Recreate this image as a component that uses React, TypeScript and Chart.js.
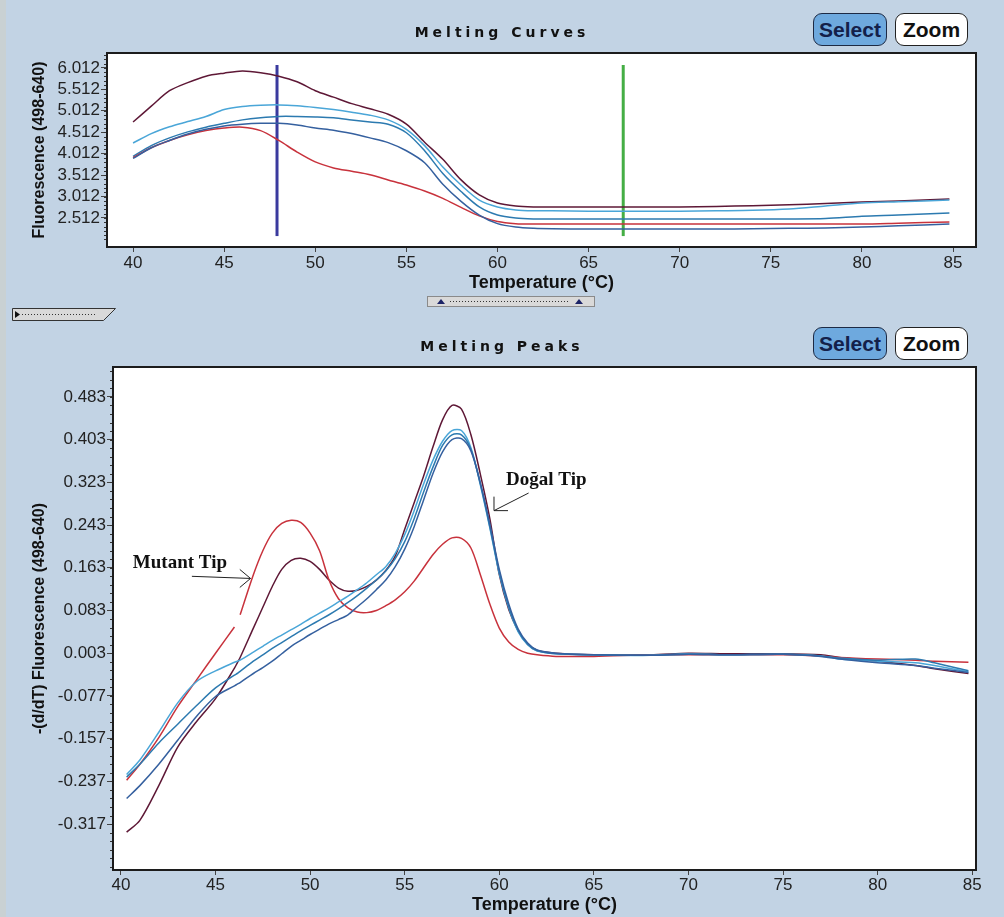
import React, { useEffect, useRef } from "react";
import { Chart, registerables } from "chart.js";

Chart.register(...registerables);

const BG = "rgb(194,211,228)";

// ---------- Melting Curves (top) ----------
const curveTemps = [40, 41, 42, 43, 44, 45, 46, 47, 48, 49, 50, 51, 52, 53, 54, 55, 56, 57, 58, 59, 60, 61, 62, 63, 65, 68, 70, 72, 74, 76, 78, 80, 82, 84.8];
const curveMaroon = [4.75, 5.12, 5.48, 5.67, 5.82, 5.89, 5.94, 5.9, 5.82, 5.69, 5.48, 5.33, 5.18, 5.06, 4.93, 4.7, 4.28, 3.88, 3.4, 3.05, 2.86, 2.79, 2.77, 2.77, 2.77, 2.77, 2.77, 2.78, 2.8, 2.82, 2.85, 2.885, 2.91, 2.955];
const curveBlue1 = [4.26, 4.48, 4.64, 4.76, 4.88, 5.04, 5.11, 5.14, 5.15, 5.13, 5.09, 5.04, 4.98, 4.91, 4.8, 4.58, 4.2, 3.7, 3.28, 2.93, 2.77, 2.7, 2.68, 2.68, 2.67, 2.67, 2.67, 2.68, 2.69, 2.72, 2.79, 2.86, 2.89, 2.93];
const curveBlue2 = [3.95, 4.2, 4.38, 4.52, 4.63, 4.72, 4.8, 4.85, 4.88, 4.88, 4.87, 4.85, 4.8, 4.75, 4.7, 4.5, 4.08, 3.55, 3.13, 2.77, 2.58, 2.51, 2.49, 2.49, 2.49, 2.49, 2.49, 2.49, 2.49, 2.49, 2.5, 2.55, 2.58, 2.63];
const curveBlue3 = [3.9, 4.15, 4.32, 4.47, 4.58, 4.66, 4.7, 4.72, 4.72, 4.68, 4.61, 4.56, 4.48, 4.38, 4.27, 4.08, 3.8, 3.3, 2.9, 2.58, 2.38, 2.3, 2.27, 2.26, 2.255, 2.255, 2.255, 2.255, 2.26, 2.27, 2.28, 2.3, 2.33, 2.37];
const curveRed = [3.92, 4.15, 4.32, 4.45, 4.55, 4.61, 4.63, 4.55, 4.32, 4.05, 3.82, 3.68, 3.6, 3.52, 3.4, 3.28, 3.14, 2.97, 2.76, 2.56, 2.43, 2.38, 2.37, 2.37, 2.37, 2.37, 2.37, 2.37, 2.37, 2.37, 2.37, 2.37, 2.39, 2.42];
const curveYTicks = [2.512, 3.012, 3.512, 4.012, 4.512, 5.012, 5.512, 6.012];
const cursorTemps = [47.9, 66.9];
const cursorRange = [2.09, 6.08];

// ---------- Melting Peaks (bottom) ----------
const peakTemps = [40.3, 41, 42, 43, 44, 45, 46, 46.15, 46.3, 47, 47.5, 48, 48.5, 49, 49.5, 50, 50.5, 51, 51.5, 52, 52.5, 53, 53.5, 54, 54.5, 55, 55.5, 56, 56.5, 57, 57.5, 58, 58.5, 59, 59.5, 60, 60.5, 61, 61.5, 62, 63, 65, 68, 70, 72, 75, 77, 78, 80, 82, 83, 84.8];
const peakRed = [-0.235, -0.205, -0.155, -0.097, -0.047, 0.003, 0.052, null, 0.075, 0.15, 0.195, 0.228, 0.246, 0.252, 0.248, 0.228, 0.195, 0.14, 0.105, 0.088, 0.08, 0.079, 0.083, 0.092, 0.103, 0.118, 0.138, 0.163, 0.188, 0.207, 0.219, 0.218, 0.2, 0.15, 0.095, 0.05, 0.024, 0.01, 0.003, 0.0, -0.003, -0.003, 0.0, 0.0, 0.0, 0.0, -0.002, -0.005, -0.008, -0.01, -0.012, -0.014];
const peakDark = [-0.332, -0.31, -0.245, -0.173, -0.125, -0.082, -0.025, -0.015, -0.005, 0.05, 0.089, 0.128, 0.16, 0.177, 0.181, 0.175, 0.16, 0.14, 0.125, 0.119, 0.121, 0.128, 0.14, 0.158, 0.185, 0.235, 0.285, 0.335, 0.39, 0.44, 0.467, 0.46, 0.412, 0.338, 0.255, 0.15, 0.085, 0.045, 0.02, 0.008, 0.003, 0.0, 0.0, 0.003, 0.002, 0.002, 0.0, -0.005, -0.012, -0.02, -0.026, -0.035];
const peakBlueA = [-0.224, -0.197, -0.145, -0.09, -0.05, -0.03, -0.014, -0.012, -0.01, 0.005, 0.016, 0.027, 0.037, 0.047, 0.057, 0.068, 0.078, 0.088, 0.099, 0.11, 0.122, 0.135, 0.15, 0.165, 0.19, 0.225, 0.27, 0.32, 0.365, 0.4, 0.42, 0.42, 0.388, 0.318, 0.238, 0.152, 0.088, 0.043, 0.019, 0.007, 0.002, 0.0, -0.001, 0.002, 0.0, 0.001, -0.002, -0.008, -0.012, -0.015, -0.02, -0.032];
const peakBlueB = [-0.229, -0.205, -0.165, -0.13, -0.095, -0.062, -0.038, -0.035, -0.031, -0.012, 0.0, 0.012, 0.023, 0.034, 0.045, 0.055, 0.065, 0.075, 0.086, 0.098, 0.111, 0.125, 0.14, 0.157, 0.18, 0.212, 0.255, 0.305, 0.352, 0.392, 0.412, 0.412, 0.385, 0.32, 0.24, 0.155, 0.09, 0.045, 0.02, 0.008, 0.002, 0.0, -0.001, 0.001, 0.0, 0.001, -0.002, -0.006, -0.01, -0.008, -0.015, -0.03];
const peakBlueC = [-0.269, -0.245, -0.205, -0.16, -0.115, -0.078, -0.058, -0.055, -0.052, -0.035, -0.024, -0.012, 0.002, 0.016, 0.027, 0.038, 0.048, 0.058, 0.066, 0.075, 0.09, 0.105, 0.122, 0.14, 0.165, 0.198, 0.24, 0.29, 0.34, 0.38, 0.403, 0.405, 0.382, 0.322, 0.245, 0.16, 0.095, 0.048, 0.022, 0.009, 0.003, 0.0, -0.001, 0.001, 0.0, 0.001, -0.003, -0.008, -0.015, -0.02, -0.025, -0.033];
const peakYTicks = [-0.317, -0.237, -0.157, -0.077, 0.003, 0.083, 0.163, 0.243, 0.323, 0.403, 0.483];
const tempTicks = [40, 45, 50, 55, 60, 65, 70, 75, 80, 85];

const annotations = [
  { text: "Mutant Tip", x: 40.63, y: 0.172, from: [43.75, 0.147], to: [46.85, 0.143], heads: [140, 220] },
  { text: "Doğal Tip", x: 60.36, y: 0.327, from: [61.55, 0.303], to: [59.72, 0.27], heads: [0, -90] },
];

const COL = {
  maroon: "#5E1836",
  red: "#C8323C",
  blueA: "#4AA6D8",
  blueB: "#2C7AB0",
  blueC: "#35609F",
};

const frame = (minorStep: number) => ({
  id: "frame",
  beforeDraw(chart: any) {
    const { ctx, chartArea: a } = chart;
    ctx.save();
    ctx.fillStyle = "#ffffff";
    ctx.fillRect(a.left, a.top, a.right - a.left, a.bottom - a.top);
    ctx.restore();
  },
  afterDraw(chart: any) {
    const { ctx, chartArea: a } = chart;
    const y = chart.scales.y;
    ctx.save();
    ctx.strokeStyle = "#333";
    ctx.lineWidth = 1;
    const ticks = y.ticks.map((t: any) => t.value);
    const lo = ticks[0] - minorStep * 5;
    const hi = ticks[ticks.length - 1] + minorStep * 5;
    for (let v = lo; v <= hi + 1e-9; v += minorStep) {
      const p = Math.round(y.getPixelForValue(v)) + 0.5;
      if (p < a.top + 1 || p > a.bottom - 1) continue;
      ctx.beginPath();
      ctx.moveTo(a.left - 3, p);
      ctx.lineTo(a.left, p);
      ctx.stroke();
    }
    ctx.strokeStyle = "#1c1c1c";
    ctx.lineWidth = 2;
    ctx.strokeRect(a.left, a.top, a.right - a.left, a.bottom - a.top);
    ctx.restore();
  },
});

const annotate = {
  id: "annotate",
  afterDatasetsDraw(chart: any) {
    const { ctx } = chart;
    const xs = chart.scales.x;
    const ys = chart.scales.y;
    ctx.save();
    ctx.fillStyle = "#111";
    ctx.strokeStyle = "#222";
    ctx.lineWidth = 1;
    ctx.font = 'bold 19px "Liberation Serif"';
    ctx.textBaseline = "middle";
    ctx.textAlign = "left";
    for (const an of annotations) {
      ctx.fillText(an.text, xs.getPixelForValue(an.x), ys.getPixelForValue(an.y));
      const x1 = xs.getPixelForValue(an.from[0]);
      const y1 = ys.getPixelForValue(an.from[1]);
      const x2 = xs.getPixelForValue(an.to[0]);
      const y2 = ys.getPixelForValue(an.to[1]);
      ctx.beginPath();
      ctx.moveTo(x1, y1);
      ctx.lineTo(x2, y2);
      for (const hd of an.heads) {
        const r = (hd * Math.PI) / 180;
        ctx.moveTo(x2, y2);
        ctx.lineTo(x2 + 14 * Math.cos(r), y2 + 14 * Math.sin(r));
      }
      ctx.stroke();
    }
    ctx.restore();
  },
};

const tickFont = { family: "Liberation Sans", size: 17 };
const titleFont = { family: "Liberation Sans", size: 16, weight: "bold" as const };

function xScale(min: number, max: number, height: number, tickPad: number, titlePadBottom: number) {
  return {
    type: "linear" as const,
    min,
    max,
    afterBuildTicks: (s: any) => {
      s.ticks = tempTicks.map((v) => ({ value: v }));
    },
    afterFit: (s: any) => {
      s.height = height;
    },
    ticks: { font: tickFont, color: "#222", padding: tickPad, maxRotation: 0, autoSkip: false, callback: (v: any) => String(v) },
    grid: { drawOnChartArea: false, drawTicks: true, tickLength: 5, color: "#444" },
    border: { display: false },
    title: {
      display: true,
      text: "Temperature (°C)",
      font: { family: "Liberation Sans", size: 18, weight: "bold" as const },
      color: "#111",
      padding: { top: 0, bottom: titlePadBottom },
    },
  };
}

function yScale(min: number, max: number, width: number, ticks: number[], label: string) {
  return {
    type: "linear" as const,
    min,
    max,
    afterBuildTicks: (s: any) => {
      s.ticks = ticks.map((v) => ({ value: v }));
    },
    afterFit: (s: any) => {
      s.width = width;
    },
    ticks: { font: tickFont, color: "#222", padding: 1, autoSkip: false, callback: (v: any) => Number(v).toFixed(3) },
    grid: { drawOnChartArea: false, drawTicks: true, tickLength: 6, color: "#444" },
    border: { display: false },
    title: { display: true, text: label, font: titleFont, color: "#111", padding: { top: 30, bottom: 0 } },
  };
}

const line = (label: string, temps: number[], vals: (number | null)[], color: string) => ({
  label,
  data: temps.map((t, i) => ({ x: t, y: vals[i] })),
  borderColor: color,
  borderWidth: 1.5,
  pointRadius: 0,
  tension: 0.3,
  fill: false,
  spanGaps: false,
});

function Button({ text, left, top, active }: { text: string; left: number; top: number; active: boolean }) {
  return (
    <div
      style={{
        position: "absolute",
        left,
        top,
        width: active ? 74 : 73,
        height: 33,
        boxSizing: "border-box",
        borderRadius: 9,
        border: active ? "1px solid #1d2a44" : "1px solid #222",
        background: active ? "#6EA9DE" : "#ffffff",
        color: active ? "#13204A" : "#111",
        font: 'bold 21px "Liberation Sans"',
        display: "flex",
        alignItems: "center",
        justifyContent: "center",
      }}
    >
      {text}
    </div>
  );
}

export default function App() {
  const topRef = useRef<HTMLCanvasElement>(null);
  const botRef = useRef<HTMLCanvasElement>(null);

  useEffect(() => {
    const top = new Chart(topRef.current!, {
      type: "line",
      data: {
        datasets: [
          line("c1", curveTemps, curveBlue3, COL.blueC),
          line("c2", curveTemps, curveRed, COL.red),
          line("c3", curveTemps, curveBlue2, COL.blueB),
          line("c4", curveTemps, curveBlue1, COL.blueA),
          line("c5", curveTemps, curveMaroon, COL.maroon),
          {
            label: "cursor1",
            data: cursorRange.map((v) => ({ x: cursorTemps[0], y: v })),
            borderColor: "#3A3A9E",
            borderWidth: 3,
            pointRadius: 0,
          },
          {
            label: "cursor2",
            data: cursorRange.map((v) => ({ x: cursorTemps[1], y: v })),
            borderColor: "#45AE45",
            borderWidth: 3,
            pointRadius: 0,
          },
        ] as any,
      },
      options: {
        responsive: false,
        animation: false,
        layout: { padding: { left: 0, right: 28, top: 53, bottom: 0 } },
        plugins: { legend: { display: false }, tooltip: { enabled: false }, title: { display: false } },
        scales: {
          x: xScale(38.57, 86.26, 53, 1, 6) as any,
          y: yScale(1.835, 6.36, 107, curveYTicks, "Fluorescence (498-640)") as any,
        },
      },
      plugins: [frame(0.1)],
    });

    const bot = new Chart(botRef.current!, {
      type: "line",
      data: {
        datasets: [
          line("p1", peakTemps, peakBlueC, COL.blueC),
          line("p2", peakTemps, peakBlueB, COL.blueB),
          line("p3", peakTemps, peakBlueA, COL.blueA),
          line("p4", peakTemps, peakRed, COL.red),
          line("p5", peakTemps, peakDark, COL.maroon),
        ] as any,
      },
      options: {
        responsive: false,
        animation: false,
        layout: { padding: { left: 0, right: 28, top: 37, bottom: 0 } },
        plugins: { legend: { display: false }, tooltip: { enabled: false }, title: { display: false } },
        scales: {
          x: xScale(39.58, 85.2, 47, 0, 1) as any,
          y: yScale(-0.403, 0.539, 113, peakYTicks, "-(d/dT) Fluorescence (498-640)") as any,
        },
      },
      plugins: [frame(0.016), annotate],
    });

    return () => {
      top.destroy();
      bot.destroy();
    };
  }, []);

  const titleStyle: React.CSSProperties = {
    position: "absolute",
    left: 0,
    width: 1004,
    textAlign: "center",
    font: 'bold 14px "DejaVu Sans"',
    letterSpacing: "4px",
    color: "#111",
  };

  return (
    <div style={{ position: "fixed", left: 0, top: 0, width: 1004, height: 917, background: BG, overflow: "hidden" }}>
      <div style={{ position: "absolute", left: 0, top: 0, width: 6, height: 917, background: "#C9D1D3" }} />
      <canvas ref={topRef} width={1004} height={300} style={{ position: "absolute", left: 0, top: 0 }} />
      <canvas ref={botRef} width={1004} height={587} style={{ position: "absolute", left: 0, top: 330 }} />
      <div style={{ ...titleStyle, top: 24 }}>Melting Curves</div>
      <div style={{ ...titleStyle, top: 338 }}>Melting Peaks</div>
      <Button text="Select" left={813} top={13} active />
      <Button text="Zoom" left={895} top={13} active={false} />
      <Button text="Select" left={813} top={327} active />
      <Button text="Zoom" left={895} top={327} active={false} />
      <svg style={{ position: "absolute", left: 0, top: 290 }} width={620} height={40}>
        <rect x={427.5} y={6.5} width={167} height={10} fill="#D9D9D9" stroke="#8A8A8A" />
        <polygon points="437,14 441,9 445,14" fill="#1B2366" />
        <polygon points="575,14 579,9 583,14" fill="#1B2366" />
        <line x1={450} y1={11.5} x2={570} y2={11.5} stroke="#333" strokeDasharray="1 2" />
        <polygon points="12.5,18.5 115.5,18.5 103.5,30.5 12.5,30.5" fill="#D9D9D9" stroke="#333" />
        <polygon points="15,21 20,24.5 15,28" fill="#111" />
        <line x1={22} y1={24.5} x2={96} y2={24.5} stroke="#333" strokeDasharray="1 2" />
      </svg>
    </div>
  );
}
